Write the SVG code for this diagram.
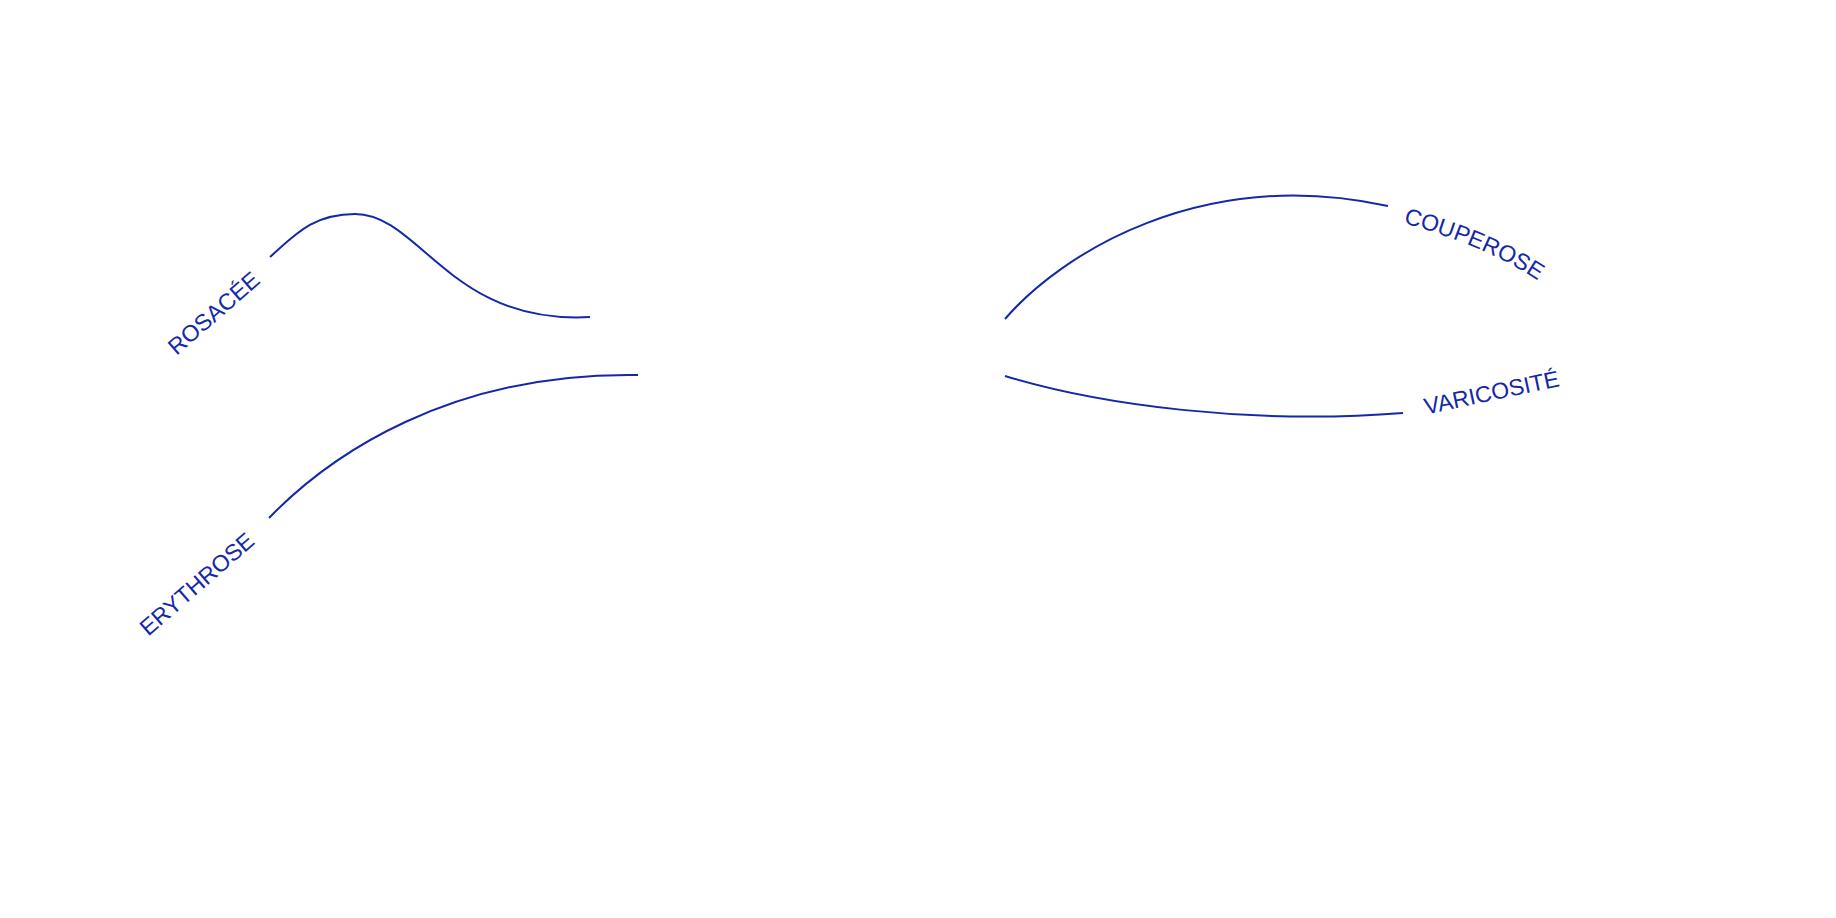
<svg xmlns="http://www.w3.org/2000/svg" width="1836" height="918" viewBox="0 0 1836 918">
<style>
.c{fill:none;stroke:#1428A8;stroke-width:2;stroke-linecap:butt}
.t{font-family:"Liberation Sans","Noto Sans",Arial,sans-serif;font-size:23px;fill:#1428A8}
</style>
<defs>
<path id="coupPath" d="M1403,223 Q1487,246 1540,282"/>
</defs>
<rect width="1836" height="918" fill="#ffffff"/>
<g id="connectors">
<path class="c" d="M270,257 C294,236 312,214 355,214 C420,214 450,325 590,317"/>
<path class="c" d="M269,518 C330,455 450,372 638,375"/>
<path class="c" d="M1005,319 C1060,255 1200,165 1388,206"/>
<path class="c" d="M1005,376 C1100,405 1250,425 1403,413"/>
</g>
<g id="rosacee">
<text class="t" text-anchor="middle" transform="translate(219,319) rotate(-41)">ROSACÉE</text>
</g>
<g id="erythrose">
<text class="t" text-anchor="middle" transform="translate(202,590) rotate(-41)">ERYTHROSE</text>
</g>
<g id="couperose">
<text class="t"><textPath href="#coupPath">COUPEROSE</textPath></text>
</g>
<g id="varicosite">
<text class="t" transform="translate(1426,414.6) rotate(-12)">VARICOSITÉ</text>
</g>
</svg>
